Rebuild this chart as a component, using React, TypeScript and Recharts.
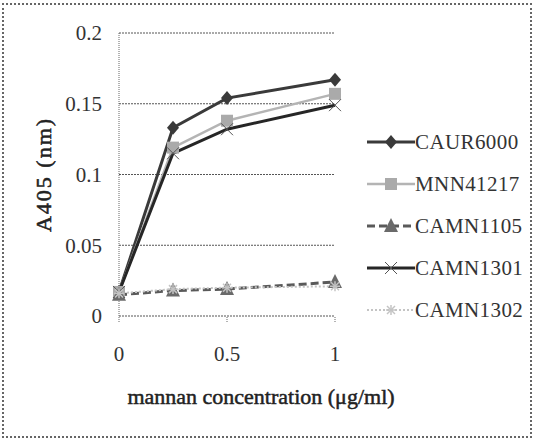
import React from "react";
import { LineChart, Line, XAxis, YAxis, CartesianGrid, Label } from "recharts";

// mannan concentration (µg/ml)
const concentrations = [0, 0.25, 0.5, 1];

// A405 readings per strain
const caur6000 = [0.017, 0.133, 0.154, 0.167];
const mnn41217 = [0.017, 0.119, 0.138, 0.157];
const camn1105 = [0.015, 0.018, 0.019, 0.024];
const camn1301 = [0.017, 0.115, 0.132, 0.149];
const camn1302 = [0.016, 0.019, 0.02, 0.021];

const xTicks = [0, 0.5, 1];
const yTicks = [0, 0.05, 0.1, 0.15, 0.2];

const data = concentrations.map((c, i) => ({
  conc: c,
  CAUR6000: caur6000[i],
  MNN41217: mnn41217[i],
  CAMN1105: camn1105[i],
  CAMN1301: camn1301[i],
  CAMN1302: camn1302[i],
}));

const FONT = "'Liberation Serif', 'DejaVu Serif', serif";

type Marker = (cx: number, cy: number, key?: string) => React.ReactElement;

const diamond: Marker = (cx, cy, key) => (
  <polygon key={key} points={`${cx},${cy - 7} ${cx + 6},${cy} ${cx},${cy + 7} ${cx - 6},${cy}`} fill="#3a3a3a" />
);
const square: Marker = (cx, cy, key) => (
  <rect key={key} x={cx - 6} y={cy - 6} width={12} height={12} fill="#aaaaaa" />
);
const triangle: Marker = (cx, cy, key) => (
  <polygon key={key} points={`${cx},${cy - 8} ${cx + 7},${cy + 6} ${cx - 7},${cy + 6}`} fill="#6a6a6a" />
);
const cross: Marker = (cx, cy, key) => (
  <g key={key} stroke="#555" strokeWidth={1}>
    <line x1={cx - 6} y1={cy - 6} x2={cx + 6} y2={cy + 6} />
    <line x1={cx - 6} y1={cy + 6} x2={cx + 6} y2={cy - 6} />
  </g>
);
const star: Marker = (cx, cy, key) => (
  <g key={key} stroke="#c4c4c4" strokeWidth={1.5}>
    <line x1={cx - 5} y1={cy} x2={cx + 5} y2={cy} />
    <line x1={cx} y1={cy - 5} x2={cx} y2={cy + 5} />
    <line x1={cx - 4} y1={cy - 4} x2={cx + 4} y2={cy + 4} />
    <line x1={cx - 4} y1={cy + 4} x2={cx + 4} y2={cy - 4} />
  </g>
);

const seriesStyles = [
  { key: "CAUR6000", color: "#3a3a3a", width: 3, dash: undefined, marker: diamond },
  { key: "MNN41217", color: "#b4b4b4", width: 2.5, dash: undefined, marker: square },
  { key: "CAMN1105", color: "#5a5a5a", width: 3, dash: "8 4", marker: triangle },
  { key: "CAMN1301", color: "#262626", width: 3, dash: undefined, marker: cross },
  { key: "CAMN1302", color: "#c4c4c4", width: 2, dash: "2 2", marker: star },
];

const LegendBox = () => (
  <div style={{ fontFamily: FONT, fontSize: 21, color: "#333" }}>
    {seriesStyles.map((s) => (
      <div key={s.key} style={{ display: "flex", alignItems: "center", height: 42 }}>
        <svg width={48} height={20}>
          <line x1={0} y1={10} x2={48} y2={10} stroke={s.color} strokeWidth={s.width} strokeDasharray={s.dash} />
          {s.marker(24, 10)}
        </svg>
        <span style={{ letterSpacing: 0.4 }}>{s.key}</span>
      </div>
    ))}
  </div>
);

export default function App() {
  return (
    <div
      style={{
        position: "absolute",
        left: 0,
        top: 0,
        width: 534,
        height: 445,
        background: "#fff",
      }}
    >
      <div
        style={{
          position: "absolute",
          left: 2,
          top: 3,
          width: 526,
          height: 431,
          border: "2px dotted #666",
        }}
      />
      <div style={{ position: "absolute", left: 0, top: 0 }}>
        <LineChart
          width={534}
          height={445}
          data={data}
          margin={{ top: 33, right: 199, left: 0, bottom: 29 }}
        >
          <CartesianGrid vertical={false} stroke="#555" strokeDasharray="2 1" />
          <XAxis
            dataKey="conc"
            type="number"
            domain={[0, 1]}
            ticks={xTicks}
            height={100}
            axisLine={false}
            tickLine={{ stroke: "#666", strokeDasharray: "1 1" }}
            tickSize={6}
            tickMargin={24}
            tick={{ fill: "#333", fontSize: 21, fontFamily: FONT }}
          >
            <Label
              value="mannan concentration (μg/ml)"
              position="insideBottom"
              offset={12}
              dx={34}
              style={{ fill: "#222", fontSize: 22, fontFamily: FONT, stroke: "#222", strokeWidth: 0.5 }}
            />
          </XAxis>
          <YAxis
            type="number"
            domain={[0, 0.2]}
            ticks={yTicks}
            width={119}
            axisLine={{ stroke: "#666", strokeDasharray: "1 1" }}
            tickLine={false}
            tickSize={0}
            tickMargin={17}
            tick={{ fill: "#333", fontSize: 21, fontFamily: FONT }}
          >
            <Label
              value="A405 (nm)"
              angle={-90}
              position="insideLeft"
              offset={43}
              style={{
                textAnchor: "middle",
                fill: "#222",
                fontSize: 22,
                fontFamily: FONT,
                stroke: "#222",
                strokeWidth: 0.5,
                letterSpacing: 2,
              }}
            />
          </YAxis>
          {seriesStyles.map((s) => (
            <Line
              key={s.key}
              dataKey={s.key}
              stroke={s.color}
              strokeWidth={s.width}
              strokeDasharray={s.dash}
              isAnimationActive={false}
              dot={(p: any) => s.marker(p.cx, p.cy, `${s.key}-${p.index}`)}
              activeDot={false}
            />
          ))}
        </LineChart>
      </div>
      <div style={{ position: "absolute", left: 367, top: 121, width: 165 }}>
        <LegendBox />
      </div>
    </div>
  );
}
